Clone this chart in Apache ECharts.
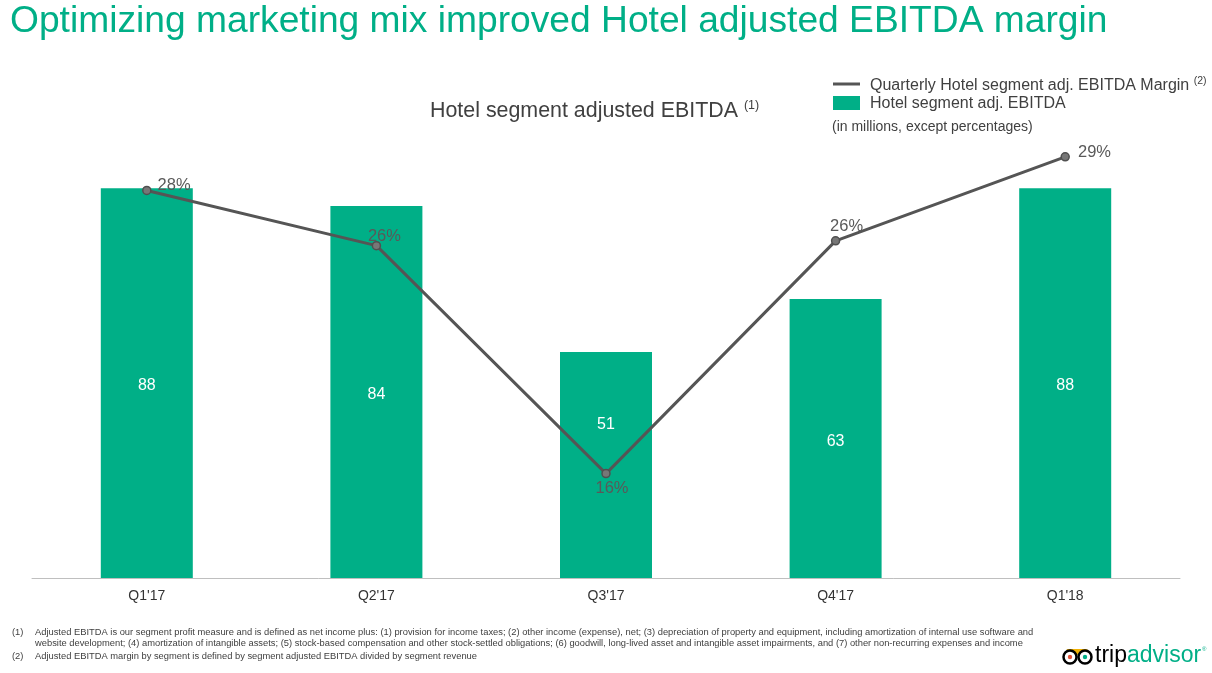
<!DOCTYPE html>
<html><head><meta charset="utf-8">
<script src="https://cdn.jsdelivr.net/npm/echarts@6/dist/echarts.min.js"></script>
<style>html,body{margin:0;padding:0;background:#fff}#c{width:1212px;height:673px}</style>
</head><body><div id="c"></div>
<script>
const categories = ["Q1'17", "Q2'17", "Q3'17", "Q4'17", "Q1'18"];
const ebitda = [88, 84, 51, 63, 88];
const margin = [27.9, 25.6, 16.1, 25.8, 29.3];
const barName = 'Hotel segment adj. EBITDA';
const lineName = 'Quarterly Hotel segment adj. EBITDA Margin';

const GREEN = '#00AF87';
const GRAY = '#555555';
const lineLabelCfg = [
  {position: 'right', offset: [1, -5]},
  {position: 'top', offset: [8, 9]},
  {position: 'bottom', offset: [6, -3]},
  {position: 'top', offset: [11, 4]},
  {position: 'right', offset: [3, -4]}
];
const barLabelOffset = [[0, 3], [0, 3], [0, -40], [0, 3], [0, 3]];
const FONT = 'Liberation Sans, Arial, sans-serif';

const chart = echarts.init(document.getElementById('c'));
chart.setOption({
  animation: false,
  backgroundColor: '#fff',
  textStyle: {fontFamily: FONT},
  grid: {left: 32, right: 32, top: 135, bottom: 95},
  xAxis: {
    type: 'category', data: categories,
    axisLine: {lineStyle: {color: '#bfbfbf', width: 1}},
    axisTick: {show: false},
    axisLabel: {color: '#333333', fontSize: 14, margin: 11, fontFamily: FONT}
  },
  yAxis: [
    {type: 'value', min: 0, max: 100, show: false, splitLine: {show: false}},
    {type: 'value', min: 11.75, max: 30.21, show: false, splitLine: {show: false}}
  ],
  series: [
    {
      name: barName, type: 'bar', barWidth: 92,
      data: ebitda.map((v, i) => ({value: v, label: {offset: barLabelOffset[i]}})),
      itemStyle: {color: GREEN},
      label: {show: true, position: 'inside', color: '#fff', fontSize: 16, fontFamily: FONT}
    },
    {
      name: lineName, type: 'line', yAxisIndex: 1,
      data: margin.map((v, i) => ({value: v, label: lineLabelCfg[i]})),
      lineStyle: {color: GRAY, width: 3},
      itemStyle: {color: '#777777', borderColor: '#505050', borderWidth: 1.5},
      symbol: 'circle', symbolSize: 8,
      label: {show: true, color: '#595959', fontSize: 16.5, fontFamily: FONT,
        formatter: p => Math.round(p.value) + '%'}
    }
  ],
  graphic: [
    {type: 'text', left: 10, top: 3, style: {text: 'Optimizing marketing mix improved Hotel adjusted EBITDA margin',
      fill: GREEN, font: '37.2px ' + FONT}},
    {type: 'text', left: 430, top: 99, style: {
      text: '{a|Hotel segment adjusted EBITDA }{s|(1)}',
      rich: {a: {fill: '#404040', font: '21.4px ' + FONT},
             s: {fill: '#404040', font: '12.5px ' + FONT, padding: [0, 0, 11, 0]}}
    }},
    {type: 'line', shape: {x1: 833, y1: 84, x2: 860, y2: 84}, style: {stroke: GRAY, lineWidth: 3}},
    {type: 'rect', shape: {x: 833, y: 96, width: 27, height: 14}, style: {fill: GREEN}},
    {type: 'text', left: 870, top: 76, style: {
      text: '{a|' + lineName + ' }{s|(2)}',
      rich: {a: {fill: '#404040', font: '16px ' + FONT},
             s: {fill: '#404040', font: '10.5px ' + FONT, padding: [0, 0, 8, 0]}}
    }},
    {type: 'text', left: 870, top: 96, style: {text: barName, fill: '#404040', font: '16px ' + FONT}},
    {type: 'text', left: 832, top: 120, style: {text: '(in millions, except percentages)', fill: '#404040', font: '14px ' + FONT}},
    {type: 'text', left: 12, top: 628, style: {text: '(1)', fill: '#404040', font: '9.35px ' + FONT}},
    {type: 'text', left: 35, top: 628, style: {text: 'Adjusted EBITDA is our segment profit measure and is defined as net income plus: (1) provision for income taxes; (2) other income (expense), net; (3) depreciation of property and equipment, including amortization of internal use software and', fill: '#404040', font: '9.35px ' + FONT}},
    {type: 'text', left: 35, top: 639, style: {text: 'website development; (4) amortization of intangible assets; (5) stock-based compensation and other stock-settled obligations; (6) goodwill, long-lived asset and intangible asset impairments, and (7) other non-recurring expenses and income', fill: '#404040', font: '9.35px ' + FONT}},
    {type: 'text', left: 12, top: 652, style: {text: '(2)', fill: '#404040', font: '9.35px ' + FONT}},
    {type: 'text', left: 35, top: 652, style: {text: 'Adjusted EBITDA margin by segment is defined by segment adjusted EBITDA divided by segment revenue', fill: '#404040', font: '9.35px ' + FONT}},
    // tripadvisor logo
    {type: 'polygon', shape: {points: [[1066, 649], [1088, 649], [1077, 655]]}, style: {fill: '#F2B203'}},
    {type: 'circle', shape: {cx: 1070, cy: 657, r: 6.5}, style: {fill: '#fff', stroke: '#000', lineWidth: 2.5}},
    {type: 'circle', shape: {cx: 1085, cy: 657, r: 6.5}, style: {fill: '#fff', stroke: '#000', lineWidth: 2.5}},
    {type: 'circle', shape: {cx: 1070, cy: 657, r: 2.2}, style: {fill: '#E2533B'}},
    {type: 'circle', shape: {cx: 1085, cy: 657, r: 2.2}, style: {fill: GREEN}},
    {type: 'text', left: 1095, top: 644, style: {
      text: '{a|trip}{b|advisor}{r|®}',
      rich: {a: {fill: '#000', font: '23px ' + FONT}, b: {fill: GREEN, font: '23px ' + FONT},
             r: {fill: GREEN, font: '6px ' + FONT, padding: [0, 0, 13, 1]}}
    }}
  ]
});
</script></body></html>
